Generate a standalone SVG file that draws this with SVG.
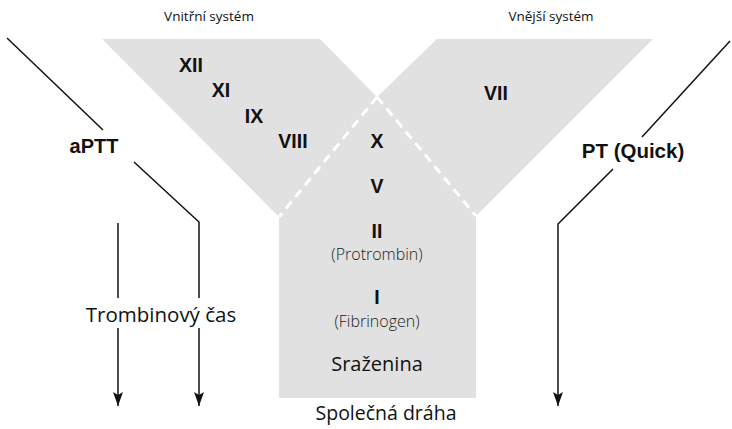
<svg xmlns="http://www.w3.org/2000/svg" width="732" height="429" viewBox="0 0 732 429">
<defs>
<marker id="arr" viewBox="0 0 14 10" refX="14" refY="5" markerWidth="14" markerHeight="10" markerUnits="userSpaceOnUse" orient="auto">
<path d="M0,0 L14,5 L0,10 L3,5 Z" fill="#111"/>
</marker>
<style>
.bold{font-family:"Liberation Sans",Arial,sans-serif;font-weight:bold;fill:#111;text-anchor:middle}
.reg{font-family:"Open Sans","Noto Sans",sans-serif;fill:#111;text-anchor:middle}
.light{font-family:"Open Sans","Noto Sans",sans-serif;font-weight:300;fill:#222;text-anchor:middle}
.ln{fill:none;stroke:#111;stroke-width:1.5}
.dash{fill:none;stroke:#fff;stroke-width:3;stroke-dasharray:9 6}
</style>
</defs>
<rect width="732" height="429" fill="#fff"/>
<g id="shape">
<polygon points="102,39 320,39 377,97 437,39 653,39 476,216 476,398 279,398 279,217" fill="#e1e1e1"/>
<path class="dash" d="M377,97 L279,217"/>
<path class="dash" d="M377,97 L476,216"/>
</g>
<g id="titles">
<text class="reg" x="209" y="21" font-size="13.5">Vnitřní systém</text>
<text class="reg" x="551" y="21" font-size="13.5">Vnější systém</text>
<text class="reg" x="386" y="420" font-size="19.5">Společná dráha</text>
</g>
<g id="n-XII"><text class="bold" x="191" y="72" font-size="19.5">XII</text></g>
<g id="n-XI"><text class="bold" x="221" y="97" font-size="19.5">XI</text></g>
<g id="n-IX"><text class="bold" x="254" y="123" font-size="19.5">IX</text></g>
<g id="n-VIII"><text class="bold" x="293" y="148" font-size="19.5">VIII</text></g>
<g id="n-VII"><text class="bold" x="496" y="100" font-size="19.5">VII</text></g>
<g id="n-X"><text class="bold" x="377" y="148" font-size="19.5">X</text></g>
<g id="n-V"><text class="bold" x="377" y="193" font-size="19.5">V</text></g>
<g id="n-II">
<text class="bold" x="377" y="238" font-size="19.5">II</text>
<text class="light" x="377" y="260" font-size="16">(Protrombin)</text>
</g>
<g id="n-I">
<text class="bold" x="377" y="304" font-size="19.5">I</text>
<text class="light" x="377" y="327" font-size="16">(Fibrinogen)</text>
</g>
<g id="n-srazenina"><text class="reg" x="377" y="371" font-size="20">Sraženina</text></g>
<g id="n-aPTT"><text class="bold" x="94" y="153" font-size="20">aPTT</text></g>
<g id="n-PT"><text class="bold" x="633" y="158" font-size="20.5">PT (Quick)</text></g>
<g id="n-TT"><text class="reg" x="161" y="322" font-size="20.5">Trombinový čas</text></g>
<g id="connectors">
<path class="ln" d="M7,38 L103,130"/>
<path class="ln" d="M134,162 L199,222 L199,298"/>
<path class="ln" d="M199,328 L199,406" marker-end="url(#arr)"/>
<path class="ln" d="M118,223 L118,298"/>
<path class="ln" d="M118,328 L118,406" marker-end="url(#arr)"/>
<path class="ln" d="M730,41 L642,137"/>
<path class="ln" d="M613,169 L558,224 L558,406" marker-end="url(#arr)"/>
</g>
</svg>
